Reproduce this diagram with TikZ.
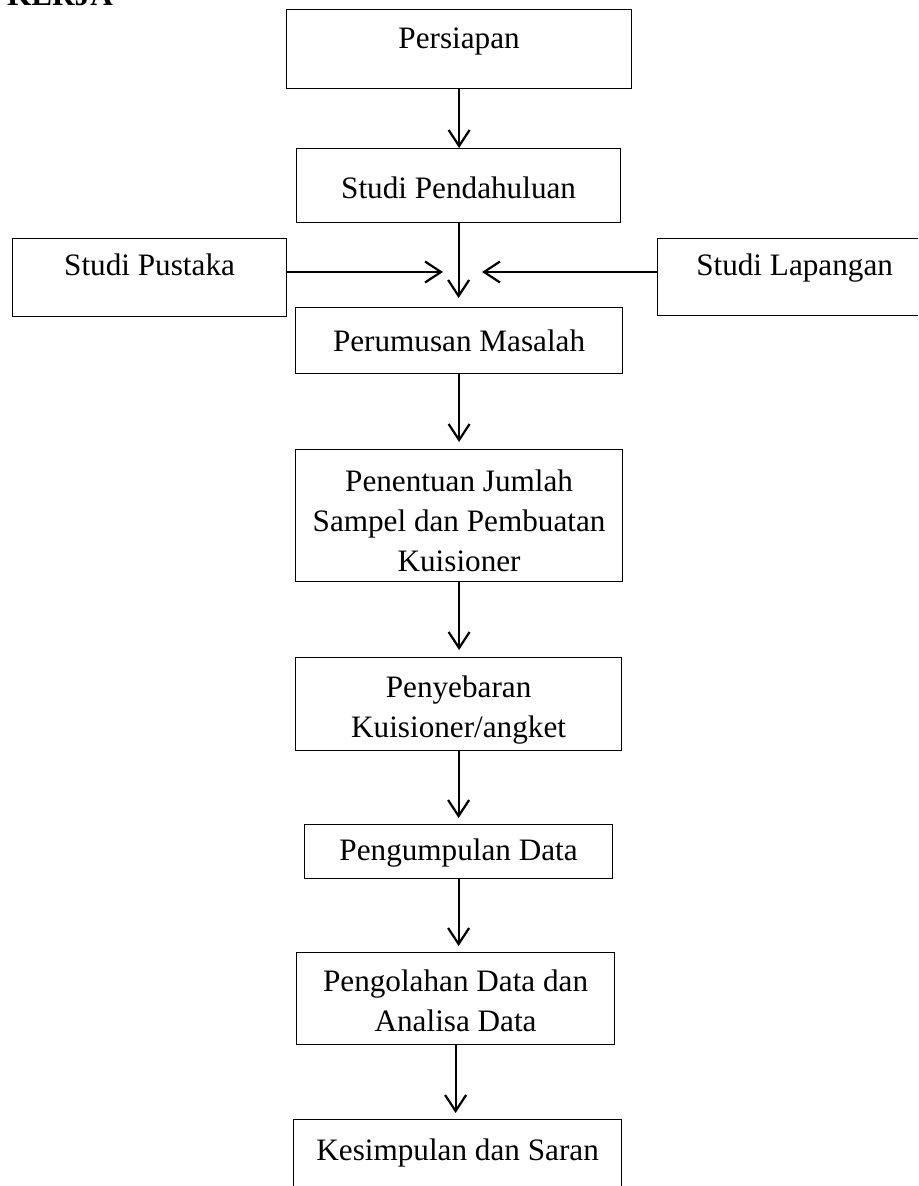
\documentclass[tikz,border=0pt]{standalone}
\usepackage{fontspec}
\setmainfont{Liberation Serif}
\usetikzlibrary{arrows.meta}

\tikzset{kotak/.style={draw, line width=0.6pt, inner sep=0pt, anchor=north west, align=flush center, font=\fontsize{15.6}{20}\selectfont}}

\begin{document}
\begin{tikzpicture}[x=0.5pt, y=-0.5pt, >={Straight Barb[length=8pt,width=10.5pt]}, panah/.style={->, line width=1.1pt}]
\clip (0,0) rectangle (918,1186);
\node (judul) [anchor=base west, font=\fontsize{15.6}{20}\selectfont\bfseries] at (0,6) {KERJA};
\node (persiapan) [kotak, text width=172.5pt, text height=19.5pt, text depth=20pt] at (286,9) {Persiapan};
\node (pendahuluan) [kotak, text width=162pt, text height=25pt, text depth=12pt] at (296,148) {Studi Pendahuluan};
\node (pustaka) [kotak, text width=137pt, text height=18.5pt, text depth=20.5pt] at (12,238) {Studi Pustaka};
\node (lapangan) [kotak, text width=137pt, text height=18.5pt, text depth=20pt] at (657,238) {Studi Lapangan};
\node (perumusan) [kotak, text width=163.5pt, text height=22pt, text depth=11pt] at (295,307) {Perumusan Masalah};
\node (penentuan) [kotak, text width=163.5pt, text height=21pt, text depth=45pt] at (295,449) {Penentuan Jumlah\\Sampel dan Pembuatan\\Kuisioner};
\node (penyebaran) [kotak, text width=163pt, text height=20pt, text depth=26.5pt] at (295,657) {Penyebaran\\Kuisioner/angket};
\node (pengumpulan) [kotak, text width=154pt, text height=18pt, text depth=9pt] at (304,824) {Pengumpulan Data};
\node (pengolahan) [kotak, text width=159pt, text height=19.5pt, text depth=26.5pt] at (296,952) {Pengolahan Data dan\\Analisa Data};
\node (kesimpulan) [kotak, text width=164pt, text height=20.5pt, text depth=20pt] at (293,1119) {Kesimpulan dan Saran};
\coordinate (ujungkiri) at (443,272);
\coordinate (ujungkanan) at (482,272);
\foreach \a/\b/\s in {persiapan/pendahuluan/0pt, pendahuluan/perumusan/4.5pt, perumusan/penentuan/3.5pt, penentuan/penyebaran/3.5pt, penyebaran/pengumpulan/3pt, pengumpulan/pengolahan/3pt, pengolahan/kesimpulan/3pt}
  \draw[panah, shorten >=\s] (\a.south) -- (\a.south |- \b.north);
\draw[panah] (pustaka.east |- ujungkiri) -- (ujungkiri);
\draw[panah] (lapangan.west |- ujungkanan) -- (ujungkanan);
\end{tikzpicture}
\end{document}
